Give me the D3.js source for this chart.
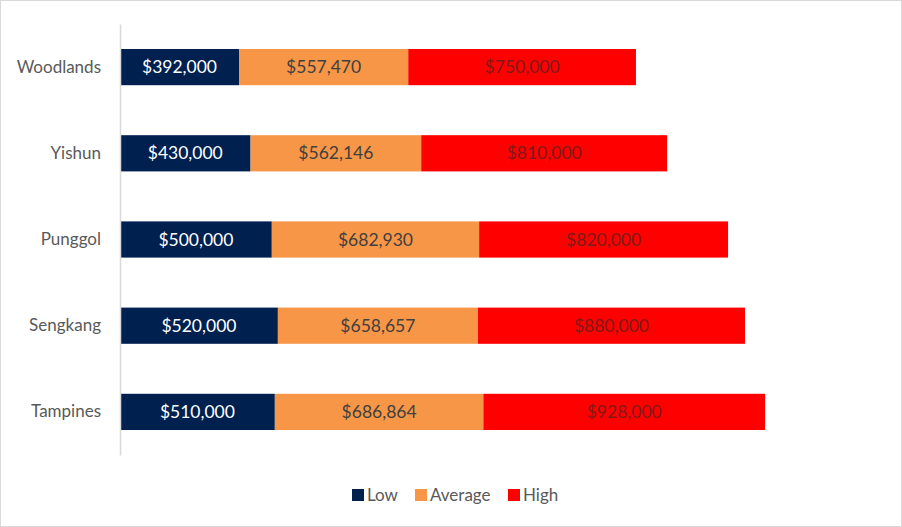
<!DOCTYPE html>
<html>
<head>
<meta charset="utf-8">
<script src="https://cdn.jsdelivr.net/npm/d3@7"></script>
<style>
  body { margin: 0; background: #fff; }
  svg { font-family: Lato, "Open Sans", sans-serif; }
</style>
</head>
<body>
<div class="chart-box"></div>
<script>
/* Data */
let towns = ["Woodlands", "Yishun", "Punggol", "Sengkang", "Tampines"];
let lowValues = [392000, 430000, 500000, 520000, 510000];
let avgValues = [557470, 562146, 682930, 658657, 686864];
let highValues = [750000, 810000, 820000, 880000, 928000];
let seriesNames = ["Low", "Average", "High"];
let seriesColors = ["#002050", "#f79646", "#ff0000"];
let labelColors = ["#ffffff", "#404040", "#7f1a1a"];

let width = 902, height = 527;

let svg = d3.select(".chart-box")
  .append("svg")
  .attr("width", width)
  .attr("height", height);

// chart border
svg.append("rect")
  .attr("x", 0.5).attr("y", 0.5)
  .attr("width", width - 1).attr("height", height - 1)
  .attr("fill", "#fff")
  .attr("stroke", "#d9d9d9");

// build rows for the stack
let rows = towns.map((t, i) => ({ town: t, Low: lowValues[i], Average: avgValues[i], High: highValues[i] }));
let stacked = d3.stack().keys(seriesNames)(rows);

let x = d3.scaleLinear()
  .domain([0, 2500000])
  .range([120, 879]);

let y = d3.scaleBand()
  .domain(towns)
  .range([24, 455])
  .paddingInner(0.58)
  .paddingOuter(0.29);

/* bars */
let layers = svg.append("g")
  .selectAll("g")
  .data(stacked)
  .enter()
  .append("g")
  .attr("fill", (d, i) => seriesColors[i]);

layers.selectAll("rect")
  .data(d => d)
  .enter()
  .append("rect")
  .attr("x", d => x(d[0]))
  .attr("y", d => y(d.data.town))
  .attr("width", d => x(d[1]) - x(d[0]))
  .attr("height", y.bandwidth());

/* value labels */
let fmt = d3.format("$,");
stacked.forEach((layer, i) => {
  svg.append("g")
    .selectAll("text")
    .data(layer)
    .enter()
    .append("text")
    .attr("x", d => (x(d[0]) + x(d[1])) / 2)
    .attr("y", d => y(d.data.town) + y.bandwidth() / 2)
    .attr("dy", "0.35em")
    .attr("text-anchor", "middle")
    .attr("font-size", 17.5)
    .attr("fill", labelColors[i])
    .text(d => fmt(d[1] - d[0]));
});

/* category axis */
let yAxis = svg.append("g")
  .attr("transform", "translate(120,0)")
  .call(d3.axisLeft(y).tickSize(0).tickPadding(19));
yAxis.select(".domain").attr("stroke", "#d9d9d9").attr("stroke-width", 1.5);
yAxis.selectAll("text")
  .attr("font-size", 17)
  .attr("font-family", "Lato, 'Open Sans', sans-serif")
  .attr("fill", "#595959");

/* legend */
let legendX = [352, 415, 508];
let legend = svg.append("g")
  .selectAll("g")
  .data(seriesNames)
  .enter()
  .append("g")
  .attr("transform", (d, i) => `translate(${legendX[i]},495)`);
legend.append("rect")
  .attr("x", 0).attr("y", -6)
  .attr("width", 12).attr("height", 12)
  .attr("fill", (d, i) => seriesColors[i]);
legend.append("text")
  .attr("x", 15)
  .attr("dy", "0.35em")
  .attr("font-size", 17)
  .attr("fill", "#595959")
  .text(d => d);
</script>
</body>
</html>
